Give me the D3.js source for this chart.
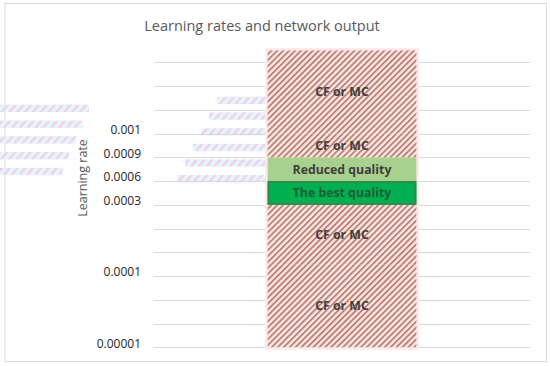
<!DOCTYPE html>
<html>
<head>
<meta charset="utf-8">
<script src="https://cdn.jsdelivr.net/npm/d3@7"></script>
<style>
  html, body { margin: 0; padding: 0; background: #fff; }
  svg { display: block; }
</style>
</head>
<body>
<div id="chart"></div>
<script>
// ─── Data ─────────────────────────────────────────────────────────────────────
const categories = ['Learning rate']
const segmentValues = [3.5, 2.5, 1, 1, 1, 3.5]
const segmentLabels = ['CF or MC', 'CF or MC', 'The best quality', 'Reduced quality', 'CF or MC', 'CF or MC']
const segmentKinds = ['hatch', 'hatch', 'best', 'reduced', 'hatch', 'hatch']
const tickPositions = [0, 3, 6, 7, 8, 9]
const tickLabels = ['0.00001', '0.0001', '0.0003', '0.0006', '0.0009', '0.001']
const gridMax = 12

// ─── Layout ───────────────────────────────────────────────────────────────────
const W = 550, H = 366
const plot = { left: 154, right: 530, top: 62.3, bottom: 347.3 }
const FONT = '"Open Sans", "Noto Sans", sans-serif'

const svg = d3.select('#chart').append('svg')
  .attr('width', W).attr('height', H)
  .attr('viewBox', `0 0 ${W} ${H}`)

const defs = svg.append('defs')

// hatch used for the "CF or MC" parts
const hatch = defs.append('pattern')
  .attr('id', 'hatch')
  .attr('patternUnits', 'userSpaceOnUse')
  .attr('width', 4.2).attr('height', 4.2)
  .attr('patternTransform', 'rotate(45)')
hatch.append('rect').attr('width', 4.2).attr('height', 4.2).attr('fill', '#fce6e6')
hatch.append('rect').attr('width', 1.8).attr('height', 4.2).attr('fill', '#bd7f70')

// faint ghost hatch (left-over pattern smear in the original)
const ghost = defs.append('pattern')
  .attr('id', 'ghost')
  .attr('patternUnits', 'userSpaceOnUse')
  .attr('width', 6).attr('height', 6)
  .attr('patternTransform', 'rotate(40)')
ghost.append('rect').attr('width', 6).attr('height', 6).attr('fill', '#dcfcfc')
ghost.append('rect').attr('width', 2.6).attr('height', 6).attr('fill', '#fdcbeb')

// ─── Frame ────────────────────────────────────────────────────────────────────
svg.append('rect')
  .attr('x', 5).attr('y', 3.5)
  .attr('width', 541.5).attr('height', 358)
  .attr('fill', '#fff')
  .attr('stroke', '#d9d9d9').attr('stroke-width', 1)

// ─── Scales ───────────────────────────────────────────────────────────────────
const y = d3.scaleLinear().domain([0, gridMax]).range([plot.bottom, plot.top])
const x = d3.scaleBand().domain(categories)
  .range([plot.left, plot.right])
  .paddingInner(0.433).paddingOuter(0.433)

// ─── Ghost smears ─────────────────────────────────────────────────────────────
const ghostG = svg.append('g')
for (let i = 0; i < 5; i++) {
  ghostG.append('rect')
    .attr('x', 0).attr('y', 105 + i * 15.7)
    .attr('width', 89 - i * 6.6).attr('height', 7)
    .attr('fill', 'url(#ghost)')
}
for (let i = 0; i < 6; i++) {
  const x0 = 217 - i * 8
  ghostG.append('rect')
    .attr('x', x0).attr('y', 97 + i * 15.6)
    .attr('width', x(categories[0]) - x0).attr('height', 7)
    .attr('fill', 'url(#ghost)')
}

// ─── Gridlines ────────────────────────────────────────────────────────────────
svg.append('g')
  .selectAll('line')
  .data(d3.range(0, gridMax + 1))
  .join('line')
  .attr('x1', plot.left).attr('x2', plot.right)
  .attr('y1', d => Math.round(y(d)) + 0.5).attr('y2', d => Math.round(y(d)) + 0.5)
  .attr('stroke', '#d9d9d9').attr('stroke-width', 1)

// ─── Stacked column ───────────────────────────────────────────────────────────
const stacked = []
let acc = 0
segmentValues.forEach((v, i) => {
  stacked.push({ y0: acc, y1: acc + v, label: segmentLabels[i], kind: segmentKinds[i] })
  acc += v
})

const bx = x(categories[0])
const bw = x.bandwidth()
const barG = svg.append('g')

// soft pink halo behind the hatched column
barG.append('rect')
  .attr('x', bx - 2.5).attr('y', y(acc) - 2.5)
  .attr('width', bw + 5).attr('height', y(0) - y(acc) + 5)
  .attr('fill', '#fdeaec')

const FILL = { hatch: 'url(#hatch)', best: '#00b050', reduced: '#a9d18e' }
barG.selectAll('rect.seg')
  .data(stacked)
  .join('rect')
  .attr('class', 'seg')
  .attr('x', bx).attr('width', bw)
  .attr('y', d => y(d.y1)).attr('height', d => y(d.y0) - y(d.y1))
  .attr('fill', d => FILL[d.kind])

// darker rim on the best quality band
barG.selectAll('rect.rim')
  .data(stacked.filter(d => d.kind === 'best'))
  .join('rect')
  .attr('class', 'rim')
  .attr('x', bx + 1).attr('width', bw - 2)
  .attr('y', d => y(d.y1) + 1).attr('height', d => y(d.y0) - y(d.y1) - 2)
  .attr('fill', 'none')
  .attr('stroke', '#2f8a4c').attr('stroke-width', 2)

barG.selectAll('text')
  .data(stacked)
  .join('text')
  .attr('x', bx + bw / 2)
  .attr('y', d => (y(d.y0) + y(d.y1)) / 2)
  .attr('dy', '0.36em')
  .attr('text-anchor', 'middle')
  .attr('font-family', FONT)
  .attr('font-size', '12.3px')
  .attr('font-weight', 700)
  .attr('fill', d => d.kind === 'best' ? '#1d5e34' : '#3f3f3f')
  .text(d => d.label)

// ─── Tick labels ──────────────────────────────────────────────────────────────
svg.append('g')
  .selectAll('text')
  .data(tickPositions)
  .join('text')
  .attr('x', 141)
  .attr('y', d => y(d) - 4)
  .attr('dy', '0.35em')
  .attr('text-anchor', 'end')
  .attr('font-family', FONT)
  .attr('font-size', '12px')
  .attr('fill', '#262626')
  .text((d, i) => tickLabels[i])

// ─── Titles ───────────────────────────────────────────────────────────────────
svg.append('text')
  .attr('x', 262).attr('y', 26)
  .attr('dy', '0.35em')
  .attr('text-anchor', 'middle')
  .attr('font-family', FONT)
  .attr('font-size', '14.5px')
  .attr('fill', '#595959')
  .text('Learning rates and network output')

svg.append('text')
  .attr('transform', 'translate(83,178) rotate(-90)')
  .attr('dy', '0.35em')
  .attr('text-anchor', 'middle')
  .attr('font-family', FONT)
  .attr('font-size', '12.5px')
  .attr('fill', '#595959')
  .text('Learning rate')
</script>
</body>
</html>
